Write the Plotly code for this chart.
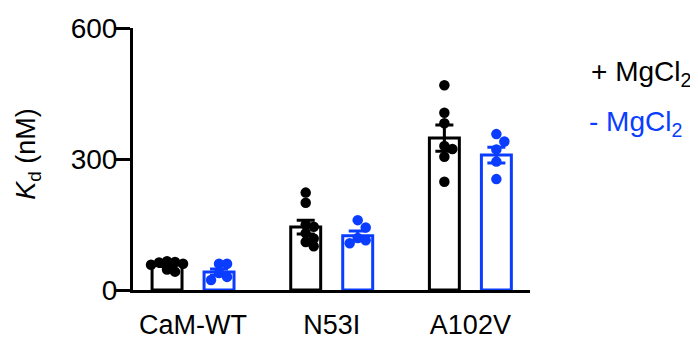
import plotly.graph_objects as go

categories = ["CaM-WT", "N53I", "A102V"]

# + MgCl2 (black)
plus_points = [
    [66, 64, 63, 60, 58, 55, 52, 47, 42],
    [223, 200, 150, 145, 130, 118, 110, 100],
    [469, 406, 382, 330, 323, 305, 248],
]
plus_mean = [57, 144, 348]
plus_sem = [3, 16, 30]

# - MgCl2 (blue)
minus_points = [
    [60, 60, 39, 30, 23],
    [160, 143, 119, 114, 107],
    [357, 340, 322, 294, 254],
]
minus_mean = [41, 124, 309]
minus_sem = [7, 11, 18]

y_ticks = [0, 300, 600]

BLACK = "#000000"
BLUE = "#0a3dff"
FONT = "Liberation Sans, Arial, sans-serif"

# geometry (style); page body has an 8px margin, so compensate
PAGE_PAD = 8
W, H = 698 - PAGE_PAD, 340 - PAGE_PAD
L, T = 133 - PAGE_PAD, 28 - PAGE_PAD
plot_w, plot_h = 397, 262
R, B = W - L - plot_w, H - T - plot_h
X_RANGE = [-0.433, 2.43]
Y_RANGE = [0, 600]
px_per_x = plot_w / (X_RANGE[1] - X_RANGE[0])
px_per_y = plot_h / (Y_RANGE[1] - Y_RANGE[0])
OFFSET = 0.1875
BAR_W = 0.216
MARKER = 10.5


def swarm(values, step_px=8.0, min_dist=7.5):
    """Deterministic beeswarm offsets (in x data units)."""
    placed = []
    offsets = [0.0] * len(values)
    order = sorted(range(len(values)), key=lambda i: -values[i])
    cands = [0, 1, -1, 2, -2]
    for i in order:
        yp = values[i] * px_per_y
        chosen = 0
        for c in cands:
            xp = c * step_px
            ok = all(((xp - px) ** 2 + (yp - py) ** 2) ** 0.5 >= min_dist for px, py in placed)
            if ok:
                chosen = c
                break
        placed.append((chosen * step_px, yp))
        offsets[i] = chosen * step_px / px_per_x
    return offsets


fig = go.Figure()

for sign, means, sems, pts, color in [
    (-1, plus_mean, plus_sem, plus_points, BLACK),
    (1, minus_mean, minus_sem, minus_points, BLUE),
]:
    xs = [i + sign * OFFSET for i in range(len(categories))]
    fig.add_trace(go.Bar(
        x=xs, y=means, width=BAR_W,
        marker=dict(color="white", line=dict(color=color, width=3)),
        showlegend=False, hoverinfo="skip",
    ))
    px_, py_ = [], []
    for i, vals in enumerate(pts):
        offs = swarm(vals)
        px_ += [xs[i] + o for o in offs]
        py_ += vals
    fig.add_trace(go.Scatter(
        x=px_, y=py_, mode="markers",
        marker=dict(color=color, size=MARKER, line=dict(width=0)),
        showlegend=False, hoverinfo="skip",
    ))
    fig.add_trace(go.Scatter(
        x=xs, y=means, mode="markers",
        marker=dict(color=color, size=1, opacity=0),
        error_y=dict(type="data", array=sems, visible=True, color=color, thickness=3, width=9),
        showlegend=False, hoverinfo="skip",
    ))

fig.update_layout(
    width=W, height=H,
    margin=dict(l=L, r=R, t=T, b=B, autoexpand=False),
    plot_bgcolor="white", paper_bgcolor="white",
    barmode="overlay",
    font=dict(family=FONT, size=26, color="black"),
    xaxis=dict(
        range=X_RANGE, tickvals=list(range(len(categories))), ticktext=categories,
        showline=True, linewidth=3, linecolor="black", showgrid=False, zeroline=False,
        ticks="", ticklabelstandoff=9, tickfont=dict(size=27), automargin=False,
    ),
    yaxis=dict(
        range=Y_RANGE, tickvals=y_ticks, showline=True, linewidth=3, linecolor="black",
        showgrid=False, zeroline=False, ticks="outside", ticklen=15, tickwidth=3,
        tickcolor="black", tickfont=dict(size=28), automargin=False,
        ticklabelstandoff=-8,
    ),
    annotations=[
        dict(text="<i>K</i><sub>d</sub> (nM)", xref="paper", yref="paper",
             x=(28 - PAGE_PAD - L) / plot_w, y=0.52, textangle=-90, showarrow=False,
             xanchor="center", yanchor="middle", font=dict(size=27, color="black")),
        dict(text="+ MgCl<sub>2</sub>", xref="paper", yref="paper",
             x=(589 - PAGE_PAD - L) / plot_w, y=(H - B - (73 - PAGE_PAD)) / plot_h, showarrow=False,
             xanchor="left", yanchor="middle", font=dict(size=28, color=BLACK)),
        dict(text="- MgCl<sub>2</sub>", xref="paper", yref="paper",
             x=(587 - PAGE_PAD - L) / plot_w, y=(H - B - (123 - PAGE_PAD)) / plot_h, showarrow=False,
             xanchor="left", yanchor="middle", font=dict(size=28, color=BLUE)),
    ],
)

fig.write_html("out.html")
